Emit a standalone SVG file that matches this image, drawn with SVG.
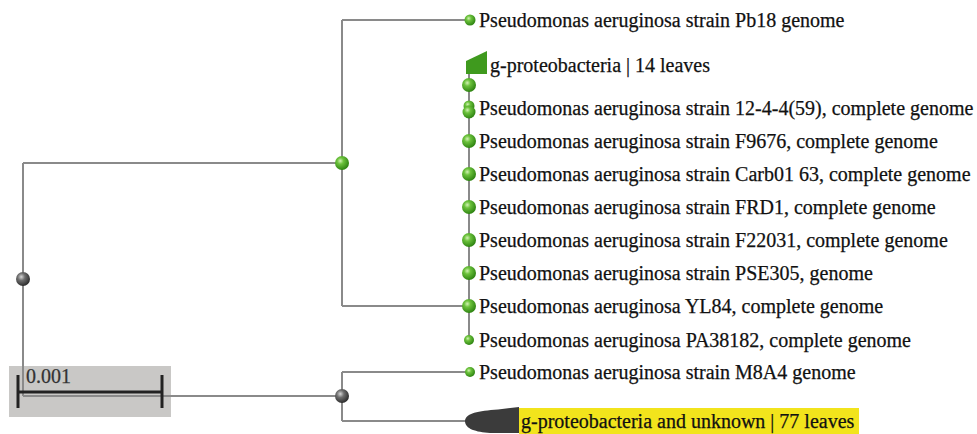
<svg xmlns="http://www.w3.org/2000/svg" width="977" height="434" viewBox="0 0 977 434">
<style>
.br{fill:none;stroke:#8a8a8a;stroke-width:2}
.lbl{font-family:"Liberation Serif","Times New Roman",serif;font-size:20px;fill:#111;stroke:#111;stroke-width:0.25}
.gn{fill:url(#gGreen)}
.gy{fill:url(#gGray)}
</style>
<defs>
<radialGradient id="gGreen" cx="38%" cy="35%" r="65%">
<stop offset="0" stop-color="#d2f2b4"/>
<stop offset="0.35" stop-color="#6cc23c"/>
<stop offset="1" stop-color="#2f8512"/>
</radialGradient>
<radialGradient id="gGray" cx="38%" cy="35%" r="65%">
<stop offset="0" stop-color="#d6d6d6"/>
<stop offset="0.4" stop-color="#6e6e6e"/>
<stop offset="1" stop-color="#2e2e2e"/>
</radialGradient>
</defs>
<rect width="977" height="434" fill="#fff"/>
<g id="scale">
<rect x="9" y="366" width="162" height="51" fill="#c9c8c6"/>
<text x="26" y="383" class="lbl" style="fill:#333;stroke:#333">0.001</text>
</g>
<g id="connectors">
<path class="br" d="M23,163 V396"/>
<path class="br" d="M23,163 H342"/>
<path class="br" d="M23,396 H342"/>
<path class="br" d="M342,20 V306"/>
<path class="br" d="M342,20 H469"/>
<path class="br" d="M342,306 H469"/>
<path class="br" d="M469,70 V340"/>
<path class="br" d="M342,372 V421"/>
<path class="br" d="M342,372 H469"/>
<path class="br" d="M342,421 H468"/>
</g>
<g id="scalebar" stroke="#222" stroke-width="3" fill="none">
<path d="M18,392 H162"/>
<path d="M18,375 V408"/>
<path d="M162,375 V408"/>
</g>
<g id="root"><circle cx="23" cy="279" r="7" class="gy"/></g>
<g id="n_upper"><circle cx="342" cy="163" r="7" class="gn"/></g>
<g id="n_lower"><circle cx="342" cy="396" r="7" class="gy"/></g>
<g id="leaf_pb18"><circle cx="470" cy="20" r="5.5" class="gn"/><text x="479" y="26.5" class="lbl">Pseudomonas aeruginosa strain Pb18 genome</text></g>
<g id="clade_14"><path d="M466,61 L487,51 L487,74 L466,74 Z" fill="#3f9a1e"/><text x="490" y="71.5" class="lbl">g-proteobacteria | 14 leaves</text></g>
<g id="n_84"><circle cx="469" cy="85" r="7" class="gn"/></g>
<g id="leaf_12-4-4"><circle cx="469" cy="106" r="5.5" class="gn"/><circle cx="469" cy="112" r="6.5" class="gn"/><text x="479" y="114.5" class="lbl">Pseudomonas aeruginosa strain 12-4-4(59), complete genome</text></g>
<g id="leaf_F9676"><circle cx="469" cy="141" r="7" class="gn"/><text x="479" y="147.5" class="lbl">Pseudomonas aeruginosa strain F9676, complete genome</text></g>
<g id="leaf_Carb01"><circle cx="469" cy="174" r="7" class="gn"/><text x="479" y="180.5" class="lbl">Pseudomonas aeruginosa strain Carb01 63, complete genome</text></g>
<g id="leaf_FRD1"><circle cx="469" cy="207" r="7" class="gn"/><text x="479" y="213.5" class="lbl">Pseudomonas aeruginosa strain FRD1, complete genome</text></g>
<g id="leaf_F22031"><circle cx="469" cy="240" r="7" class="gn"/><text x="479" y="246.5" class="lbl">Pseudomonas aeruginosa strain F22031, complete genome</text></g>
<g id="leaf_PSE305"><circle cx="469" cy="273" r="7" class="gn"/><text x="479" y="279.5" class="lbl">Pseudomonas aeruginosa strain PSE305, genome</text></g>
<g id="leaf_YL84"><circle cx="469" cy="306" r="7" class="gn"/><text x="479" y="312.5" class="lbl">Pseudomonas aeruginosa YL84, complete genome</text></g>
<g id="leaf_PA38182"><circle cx="469" cy="340" r="5" class="gn"/><text x="479" y="346.5" class="lbl">Pseudomonas aeruginosa PA38182, complete genome</text></g>
<g id="leaf_M8A4"><circle cx="470" cy="372" r="5" class="gn"/><text x="479" y="378.5" class="lbl">Pseudomonas aeruginosa strain M8A4 genome</text></g>
<g id="clade_77">
<rect x="519" y="408" width="340" height="26" fill="#f2e41c"/>
<path d="M465,421 C466,413 478,411 498,409.5 L519,407 L519,433 L490,433 C476,432 465,429 465,421 Z" fill="#3b3b3b"/>
<text x="521" y="428" class="lbl">g-proteobacteria and unknown | 77 leaves</text>
</g>
</svg>
